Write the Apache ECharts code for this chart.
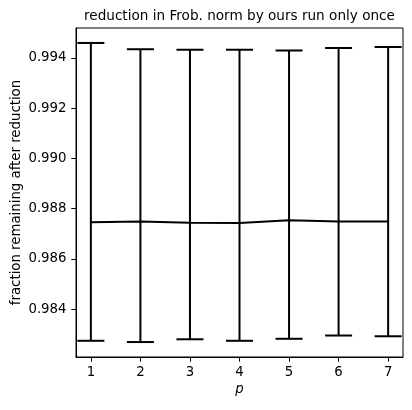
<!DOCTYPE html>
<html>
<head>
<meta charset="utf-8">
<script src="https://cdn.jsdelivr.net/npm/echarts@6/dist/echarts.min.js"></script>
<style>
  html,body{margin:0;padding:0;background:#fff;}
  #main{width:412px;height:410px;}
</style>
</head>
<body>
<div id="main"></div>
<script>
// values
var pValues = [1, 2, 3, 4, 5, 6, 7];
var means = [0.98746, 0.98749, 0.98744, 0.98743, 0.98754, 0.98749, 0.98749];
var lower = [0.98274, 0.98269, 0.98280, 0.98274, 0.98282, 0.98295, 0.98292];
var upper = [0.99459, 0.99434, 0.99432, 0.99432, 0.99429, 0.99439, 0.99443];
var yTicks = [0.984, 0.986, 0.988, 0.990, 0.992, 0.994];

var font = 'DejaVu Sans';
var fs = 13.3;
var myChart = echarts.init(document.getElementById('main'));

var lineData = [], barData = [];
for (var i = 0; i < pValues.length; i++) {
  lineData.push([pValues[i], means[i]]);
  barData.push([pValues[i], lower[i], upper[i]]);
}

// error bars: vertical line + caps
function renderBar(params, api) {
  var x = api.value(0);
  var lo = api.coord([x, api.value(1)]);
  var hi = api.coord([x, api.value(2)]);
  var cap = 13.5;
  var st = { stroke: '#000', lineWidth: 2 };
  return {
    type: 'group',
    children: [
      { type: 'line', shape: { x1: lo[0], y1: lo[1], x2: hi[0], y2: hi[1] }, style: st },
      { type: 'line', shape: { x1: lo[0] - cap, y1: lo[1], x2: lo[0] + cap, y2: lo[1] }, style: st },
      { type: 'line', shape: { x1: hi[0] - cap, y1: hi[1], x2: hi[0] + cap, y2: hi[1] }, style: st }
    ]
  };
}

var option = {
  animation: false,
  title: {
    text: 'reduction in Frob. norm by ours run only once',
    left: 84,
    top: 9,
    padding: 0,
    textStyle: { fontFamily: font, fontSize: 13.6, fontWeight: 'normal', color: '#000' }
  },
  grid: {
    left: 76, right: 9, top: 28, bottom: 53,
    show: true, borderColor: '#000', borderWidth: 1
  },
  xAxis: {
    type: 'value',
    min: 0.7, max: 7.3,
    name: 'p',
    nameLocation: 'middle',
    nameGap: 26,
    nameMoveOverlap: false,
    nameTextStyle: { fontFamily: font, fontSize: fs, fontStyle: 'italic', color: '#000' },
    splitLine: { show: false },
    axisLine: { lineStyle: { color: '#000', width: 1 } },
    axisTick: { length: 4.7, lineStyle: { color: '#000' }, customValues: pValues },
    axisLabel: { customValues: pValues, fontFamily: font, fontSize: fs, color: '#000', margin: 9 }
  },
  yAxis: {
    type: 'value',
    min: 0.982095, max: 0.995185,
    name: 'fraction remaining after reduction',
    nameLocation: 'middle',
    nameGap: 53,
    nameMoveOverlap: false,
    nameTextStyle: { fontFamily: font, fontSize: fs, color: '#000' },
    splitLine: { show: false },
    axisLine: { show: true, lineStyle: { color: '#000', width: 1 } },
    axisTick: { show: true, length: 4.7, lineStyle: { color: '#000' }, customValues: yTicks },
    axisLabel: {
      customValues: yTicks, fontFamily: font, fontSize: fs, color: '#000', margin: 9.5,
      formatter: function (v) { return v.toFixed(3); }
    }
  },
  series: [
    {
      type: 'custom',
      renderItem: renderBar,
      data: barData,
      encode: { x: 0, y: [1, 2] },
      z: 2
    },
    {
      type: 'line',
      data: lineData,
      symbol: 'none',
      lineStyle: { color: '#000', width: 2 },
      z: 3
    }
  ]
};
myChart.setOption(option);
</script>
</body>
</html>
